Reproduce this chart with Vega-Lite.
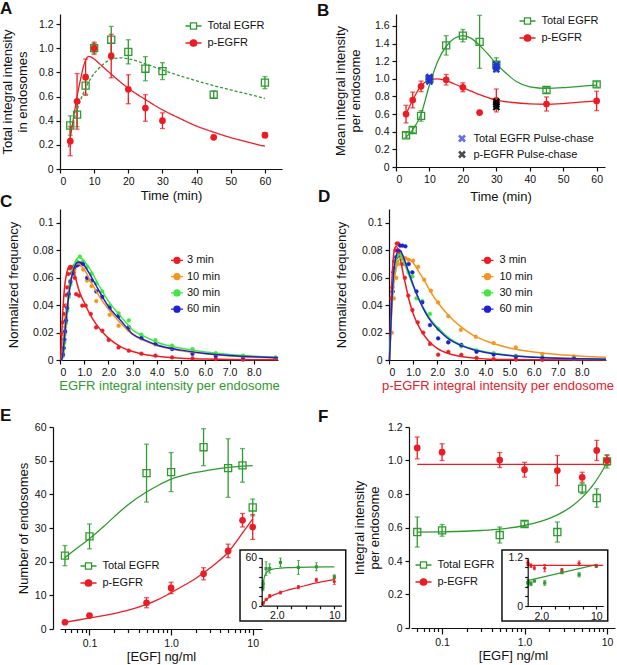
{
  "$schema": "https://vega.github.io/schema/vega-lite/v6.json",
  "padding": {"left": 0, "top": 0, "right": 2, "bottom": 2},
  "config": {
    "font": "Liberation Sans",
    "view": {"stroke": null},
    "axis": {"grid": false, "domainColor": "#111", "domainWidth": 1.2, "tickColor": "#111", "tickWidth": 1.2, "tickSize": 4,
      "labelFont": "Liberation Sans", "labelFontSize": 10.5, "labelColor": "#111", "labelPadding": 3,
      "titleFont": "Liberation Sans", "titleFontSize": 13, "titleFontWeight": "normal", "titleColor": "#111", "titleLineHeight": 14.5, "labelOverlap": false},
    "legend": {"labelFont": "Liberation Sans", "labelFontSize": 11, "labelColor": "#111"},
    "title": {"font": "Liberation Sans", "fontSize": 17, "fontWeight": "bold", "color": "#111", "anchor": "start", "frame": "group", "offset": 0, "baseline": "alphabetic"}
  },
  "datasets": {
    "aPts": [
      {"s":"Total EGFR","x":3,"y":0.36,"e":0.08},{"s":"Total EGFR","x":5,"y":0.45,"e":0.1},{"s":"Total EGFR","x":7.5,"y":0.69,"e":0.07},
      {"s":"Total EGFR","x":10,"y":1.0,"e":0.04},{"s":"Total EGFR","x":15,"y":1.07,"e":0.11},{"s":"Total EGFR","x":20,"y":0.97,"e":0.1},
      {"s":"Total EGFR","x":25,"y":0.83,"e":0.1},{"s":"Total EGFR","x":30,"y":0.81,"e":0.07},{"s":"Total EGFR","x":45,"y":0.615,"e":0.03},
      {"s":"Total EGFR","x":60,"y":0.715,"e":0.05},
      {"s":"p-EGFR","x":3,"y":0.23,"e":0.12},{"s":"p-EGFR","x":5,"y":0.56,"e":0.23},{"s":"p-EGFR","x":7.5,"y":0.76,"e":0.15},
      {"s":"p-EGFR","x":10,"y":1.0,"e":0.05},{"s":"p-EGFR","x":15,"y":0.935,"e":0.18},{"s":"p-EGFR","x":20,"y":0.66,"e":0.12},
      {"s":"p-EGFR","x":25,"y":0.505,"e":0.11},{"s":"p-EGFR","x":30,"y":0.4,"e":0.065},{"s":"p-EGFR","x":45,"y":0.262,"e":0.01},
      {"s":"p-EGFR","x":60,"y":0.28,"e":0.02}
    ],
    "aFit": [
      {"s":"Total EGFR","x":3,"y":0.3},{"s":"Total EGFR","x":4,"y":0.4},{"s":"Total EGFR","x":5,"y":0.49},{"s":"Total EGFR","x":6,"y":0.57},
      {"s":"Total EGFR","x":7.5,"y":0.67},{"s":"Total EGFR","x":9,"y":0.75},{"s":"Total EGFR","x":10,"y":0.79},{"s":"Total EGFR","x":12,"y":0.85},
      {"s":"Total EGFR","x":14,"y":0.895},{"s":"Total EGFR","x":16,"y":0.915},{"s":"Total EGFR","x":18,"y":0.92},{"s":"Total EGFR","x":20,"y":0.912},
      {"s":"Total EGFR","x":25,"y":0.87},{"s":"Total EGFR","x":30,"y":0.82},{"s":"Total EGFR","x":35,"y":0.772},{"s":"Total EGFR","x":40,"y":0.73},
      {"s":"Total EGFR","x":45,"y":0.69},{"s":"Total EGFR","x":50,"y":0.655},{"s":"Total EGFR","x":55,"y":0.62},{"s":"Total EGFR","x":60,"y":0.585},
      {"s":"p-EGFR","x":2.5,"y":0.18},{"s":"p-EGFR","x":3,"y":0.26},{"s":"p-EGFR","x":4,"y":0.43},{"s":"p-EGFR","x":5,"y":0.6},
      {"s":"p-EGFR","x":6,"y":0.74},{"s":"p-EGFR","x":7,"y":0.86},{"s":"p-EGFR","x":8,"y":0.925},{"s":"p-EGFR","x":8.5,"y":0.932},
      {"s":"p-EGFR","x":9,"y":0.928},{"s":"p-EGFR","x":10,"y":0.91},{"s":"p-EGFR","x":12,"y":0.86},{"s":"p-EGFR","x":15,"y":0.785},
      {"s":"p-EGFR","x":20,"y":0.668},{"s":"p-EGFR","x":25,"y":0.575},{"s":"p-EGFR","x":30,"y":0.49},{"s":"p-EGFR","x":35,"y":0.42},
      {"s":"p-EGFR","x":40,"y":0.355},{"s":"p-EGFR","x":45,"y":0.305},{"s":"p-EGFR","x":50,"y":0.26},{"s":"p-EGFR","x":55,"y":0.222},
      {"s":"p-EGFR","x":60,"y":0.188}
    ],
    "bPts": [
      {"s":"Total EGFR","x":3,"y":0.36,"e":0.03},{"s":"Total EGFR","x":5,"y":0.42,"e":0.03},{"s":"Total EGFR","x":7.5,"y":0.58,"e":0.06},
      {"s":"Total EGFR","x":10,"y":1.0,"e":0.03},{"s":"Total EGFR","x":15,"y":1.38,"e":0.11},{"s":"Total EGFR","x":20,"y":1.49,"e":0.07},
      {"s":"Total EGFR","x":25,"y":1.42,"e":0.3},{"s":"Total EGFR","x":30,"y":1.16,"e":0.08},{"s":"Total EGFR","x":45,"y":0.873,"e":0.03},
      {"s":"Total EGFR","x":60,"y":0.937,"e":0.03},
      {"s":"p-EGFR","x":3,"y":0.6,"e":0.1},{"s":"p-EGFR","x":5,"y":0.76,"e":0.09},{"s":"p-EGFR","x":7.5,"y":0.915,"e":0.06},
      {"s":"p-EGFR","x":10,"y":1.0,"e":0.02},{"s":"p-EGFR","x":15,"y":0.99,"e":0.06},{"s":"p-EGFR","x":20,"y":0.905,"e":0.05},
      {"s":"p-EGFR","x":25,"y":0.617,"e":0.005},{"s":"p-EGFR","x":30,"y":0.755,"e":0.13},{"s":"p-EGFR","x":45,"y":0.715,"e":0.08},
      {"s":"p-EGFR","x":60,"y":0.75,"e":0.11}
    ],
    "bFit": [
      {"s":"Total EGFR","x":3,"y":0.34},{"s":"Total EGFR","x":5,"y":0.42},{"s":"Total EGFR","x":7.5,"y":0.6},{"s":"Total EGFR","x":10,"y":0.93},
      {"s":"Total EGFR","x":12.5,"y":1.2},{"s":"Total EGFR","x":15,"y":1.37},{"s":"Total EGFR","x":17.5,"y":1.46},{"s":"Total EGFR","x":20,"y":1.49},
      {"s":"Total EGFR","x":22.5,"y":1.46},{"s":"Total EGFR","x":25,"y":1.38},{"s":"Total EGFR","x":27.5,"y":1.28},{"s":"Total EGFR","x":30,"y":1.17},
      {"s":"Total EGFR","x":33,"y":1.06},{"s":"Total EGFR","x":36,"y":0.97},{"s":"Total EGFR","x":40,"y":0.91},{"s":"Total EGFR","x":45,"y":0.893},
      {"s":"Total EGFR","x":50,"y":0.9},{"s":"Total EGFR","x":55,"y":0.915},{"s":"Total EGFR","x":60,"y":0.93},
      {"s":"p-EGFR","x":3,"y":0.6},{"s":"p-EGFR","x":5,"y":0.76},{"s":"p-EGFR","x":7.5,"y":0.92},{"s":"p-EGFR","x":10,"y":0.985},
      {"s":"p-EGFR","x":12.5,"y":1.0},{"s":"p-EGFR","x":15,"y":0.98},{"s":"p-EGFR","x":17.5,"y":0.942},{"s":"p-EGFR","x":20,"y":0.9},
      {"s":"p-EGFR","x":22.5,"y":0.86},{"s":"p-EGFR","x":25,"y":0.82},{"s":"p-EGFR","x":27.5,"y":0.787},{"s":"p-EGFR","x":30,"y":0.76},
      {"s":"p-EGFR","x":35,"y":0.732},{"s":"p-EGFR","x":40,"y":0.717},{"s":"p-EGFR","x":45,"y":0.712},{"s":"p-EGFR","x":50,"y":0.72},
      {"s":"p-EGFR","x":55,"y":0.735},{"s":"p-EGFR","x":60,"y":0.75}
    ],
    "bPulse": [
      {"s":"Total EGFR Pulse-chase","x":10,"y":0.97},{"s":"Total EGFR Pulse-chase","x":10,"y":0.995},{"s":"Total EGFR Pulse-chase","x":10,"y":1.02},
      {"s":"Total EGFR Pulse-chase","x":30,"y":1.11},{"s":"Total EGFR Pulse-chase","x":30,"y":1.135},{"s":"Total EGFR Pulse-chase","x":30,"y":1.16},
      {"s":"p-EGFR Pulse-chase","x":30,"y":0.68},{"s":"p-EGFR Pulse-chase","x":30,"y":0.71},{"s":"p-EGFR Pulse-chase","x":30,"y":0.74}
    ],
    "cPts": [
      {"s":"3 min","x":0.07,"y":0.019},{"s":"3 min","x":0.12,"y":0.0275},{"s":"3 min","x":0.165,"y":0.0336},{"s":"3 min","x":0.21,"y":0.0397},
      {"s":"3 min","x":0.26,"y":0.0474},{"s":"3 min","x":0.3,"y":0.053},{"s":"3 min","x":0.34,"y":0.0628},{"s":"3 min","x":0.4,"y":0.0669},
      {"s":"3 min","x":0.47,"y":0.0676},{"s":"3 min","x":0.56,"y":0.064},{"s":"3 min","x":0.61,"y":0.06},{"s":"3 min","x":0.67,"y":0.048},
      {"s":"3 min","x":0.79,"y":0.047},{"s":"3 min","x":0.92,"y":0.0397},{"s":"3 min","x":1.06,"y":0.0397},{"s":"3 min","x":1.27,"y":0.0336},
      {"s":"3 min","x":1.49,"y":0.0238},{"s":"3 min","x":1.75,"y":0.0214},{"s":"3 min","x":2.01,"y":0.0146},{"s":"3 min","x":2.42,"y":0.0092},
      {"s":"3 min","x":2.84,"y":0.0068},{"s":"3 min","x":3.36,"y":0.0046},{"s":"3 min","x":3.94,"y":0.0032},{"s":"3 min","x":4.63,"y":0.0019},
      {"s":"3 min","x":5.47,"y":0.0012},{"s":"3 min","x":6.43,"y":0.0007},{"s":"3 min","x":7.56,"y":0.0002},
      {"s":"10 min","x":0.12,"y":0.006},{"s":"10 min","x":0.15,"y":0.012},{"s":"10 min","x":0.18,"y":0.018},{"s":"10 min","x":0.21,"y":0.024},
      {"s":"10 min","x":0.25,"y":0.031},{"s":"10 min","x":0.3,"y":0.04},{"s":"10 min","x":0.36,"y":0.049},{"s":"10 min","x":0.43,"y":0.058},
      {"s":"10 min","x":0.51,"y":0.064},{"s":"10 min","x":0.6,"y":0.066},{"s":"10 min","x":0.7,"y":0.07},{"s":"10 min","x":0.82,"y":0.07},
      {"s":"10 min","x":0.96,"y":0.066},{"s":"10 min","x":1.12,"y":0.058},{"s":"10 min","x":1.3,"y":0.054},{"s":"10 min","x":1.5,"y":0.043},
      {"s":"10 min","x":1.74,"y":0.046},{"s":"10 min","x":2.05,"y":0.033},{"s":"10 min","x":2.42,"y":0.025},{"s":"10 min","x":2.84,"y":0.022},
      {"s":"10 min","x":3.36,"y":0.016},{"s":"10 min","x":3.94,"y":0.012},{"s":"10 min","x":4.63,"y":0.0085},{"s":"10 min","x":5.47,"y":0.006},
      {"s":"10 min","x":6.43,"y":0.0037},{"s":"10 min","x":7.56,"y":0.0025},{"s":"10 min","x":8.9,"y":0.0015},
      {"s":"30 min","x":0.12,"y":0.003},{"s":"30 min","x":0.15,"y":0.008},{"s":"30 min","x":0.18,"y":0.013},{"s":"30 min","x":0.21,"y":0.02},
      {"s":"30 min","x":0.25,"y":0.027},{"s":"30 min","x":0.3,"y":0.036},{"s":"30 min","x":0.36,"y":0.046},{"s":"30 min","x":0.43,"y":0.055},
      {"s":"30 min","x":0.51,"y":0.064},{"s":"30 min","x":0.6,"y":0.069},{"s":"30 min","x":0.7,"y":0.072},{"s":"30 min","x":0.82,"y":0.0755},
      {"s":"30 min","x":0.96,"y":0.072},{"s":"30 min","x":1.12,"y":0.068},{"s":"30 min","x":1.3,"y":0.063},{"s":"30 min","x":1.5,"y":0.056},
      {"s":"30 min","x":1.74,"y":0.05},{"s":"30 min","x":2.05,"y":0.0397},{"s":"30 min","x":2.42,"y":0.034},{"s":"30 min","x":2.84,"y":0.029},
      {"s":"30 min","x":3.36,"y":0.0185},{"s":"30 min","x":3.94,"y":0.0145},{"s":"30 min","x":4.63,"y":0.0105},{"s":"30 min","x":5.47,"y":0.008},
      {"s":"30 min","x":6.43,"y":0.005},{"s":"30 min","x":7.56,"y":0.0032},{"s":"30 min","x":8.9,"y":0.002},
      {"s":"60 min","x":0.12,"y":0.004},{"s":"60 min","x":0.15,"y":0.009},{"s":"60 min","x":0.18,"y":0.015},{"s":"60 min","x":0.21,"y":0.021},
      {"s":"60 min","x":0.25,"y":0.029},{"s":"60 min","x":0.3,"y":0.038},{"s":"60 min","x":0.36,"y":0.048},{"s":"60 min","x":0.43,"y":0.057},
      {"s":"60 min","x":0.51,"y":0.063},{"s":"60 min","x":0.6,"y":0.068},{"s":"60 min","x":0.7,"y":0.069},{"s":"60 min","x":0.82,"y":0.07},
      {"s":"60 min","x":0.96,"y":0.07},{"s":"60 min","x":1.12,"y":0.06},{"s":"60 min","x":1.3,"y":0.058},{"s":"60 min","x":1.5,"y":0.05},
      {"s":"60 min","x":1.74,"y":0.046},{"s":"60 min","x":2.05,"y":0.038},{"s":"60 min","x":2.42,"y":0.032},{"s":"60 min","x":2.84,"y":0.024},
      {"s":"60 min","x":3.36,"y":0.016},{"s":"60 min","x":3.94,"y":0.0115},{"s":"60 min","x":4.63,"y":0.008},{"s":"60 min","x":5.47,"y":0.0045},
      {"s":"60 min","x":6.43,"y":0.003},{"s":"60 min","x":7.56,"y":0.002},{"s":"60 min","x":8.9,"y":0.0012}
    ],
    "cFit": [
      {"s":"3 min","x":0.03,"y":0},{"s":"3 min","x":0.06,"y":0.014},{"s":"3 min","x":0.1,"y":0.03},{"s":"3 min","x":0.15,"y":0.045},
      {"s":"3 min","x":0.2,"y":0.055},{"s":"3 min","x":0.25,"y":0.061},{"s":"3 min","x":0.3,"y":0.065},{"s":"3 min","x":0.4,"y":0.069},
      {"s":"3 min","x":0.5,"y":0.0685},{"s":"3 min","x":0.6,"y":0.063},{"s":"3 min","x":0.7,"y":0.056},{"s":"3 min","x":0.8,"y":0.05},
      {"s":"3 min","x":1.0,"y":0.042},{"s":"3 min","x":1.25,"y":0.033},{"s":"3 min","x":1.5,"y":0.026},{"s":"3 min","x":1.75,"y":0.0205},
      {"s":"3 min","x":2.0,"y":0.016},{"s":"3 min","x":2.5,"y":0.0098},{"s":"3 min","x":3.0,"y":0.0062},{"s":"3 min","x":3.5,"y":0.004},
      {"s":"3 min","x":4,"y":0.0027},{"s":"3 min","x":5,"y":0.0013},{"s":"3 min","x":6,"y":0.0007},{"s":"3 min","x":7,"y":0.0004},
      {"s":"3 min","x":8,"y":0.0002},{"s":"3 min","x":9,"y":0.0001},
      {"s":"10 min","x":0.05,"y":0},{"s":"10 min","x":0.1,"y":0.003},{"s":"10 min","x":0.15,"y":0.012},{"s":"10 min","x":0.2,"y":0.022},
      {"s":"10 min","x":0.3,"y":0.04},{"s":"10 min","x":0.4,"y":0.054},{"s":"10 min","x":0.5,"y":0.063},{"s":"10 min","x":0.6,"y":0.068},
      {"s":"10 min","x":0.7,"y":0.07},{"s":"10 min","x":0.8,"y":0.07},{"s":"10 min","x":0.9,"y":0.068},{"s":"10 min","x":1.0,"y":0.066},
      {"s":"10 min","x":1.25,"y":0.058},{"s":"10 min","x":1.5,"y":0.05},{"s":"10 min","x":1.75,"y":0.043},{"s":"10 min","x":2.0,"y":0.037},
      {"s":"10 min","x":2.5,"y":0.027},{"s":"10 min","x":3.0,"y":0.0185},{"s":"10 min","x":3.5,"y":0.014},{"s":"10 min","x":4,"y":0.0105},
      {"s":"10 min","x":5,"y":0.0068},{"s":"10 min","x":6,"y":0.0045},{"s":"10 min","x":7,"y":0.003},{"s":"10 min","x":8,"y":0.0021},
      {"s":"10 min","x":9,"y":0.0015},
      {"s":"30 min","x":0.05,"y":0},{"s":"30 min","x":0.1,"y":0.001},{"s":"30 min","x":0.15,"y":0.008},{"s":"30 min","x":0.2,"y":0.018},
      {"s":"30 min","x":0.3,"y":0.036},{"s":"30 min","x":0.4,"y":0.052},{"s":"30 min","x":0.5,"y":0.063},{"s":"30 min","x":0.6,"y":0.07},
      {"s":"30 min","x":0.7,"y":0.074},{"s":"30 min","x":0.8,"y":0.075},{"s":"30 min","x":0.9,"y":0.074},{"s":"30 min","x":1.0,"y":0.072},
      {"s":"30 min","x":1.25,"y":0.066},{"s":"30 min","x":1.5,"y":0.058},{"s":"30 min","x":1.75,"y":0.05},{"s":"30 min","x":2.0,"y":0.043},
      {"s":"30 min","x":2.5,"y":0.032},{"s":"30 min","x":3.0,"y":0.022},{"s":"30 min","x":3.5,"y":0.017},{"s":"30 min","x":4,"y":0.013},
      {"s":"30 min","x":5,"y":0.0085},{"s":"30 min","x":6,"y":0.0058},{"s":"30 min","x":7,"y":0.004},{"s":"30 min","x":8,"y":0.0028},
      {"s":"30 min","x":9,"y":0.002},
      {"s":"60 min","x":0.05,"y":0},{"s":"60 min","x":0.1,"y":0.002},{"s":"60 min","x":0.15,"y":0.01},{"s":"60 min","x":0.2,"y":0.02},
      {"s":"60 min","x":0.3,"y":0.038},{"s":"60 min","x":0.4,"y":0.052},{"s":"60 min","x":0.5,"y":0.062},{"s":"60 min","x":0.6,"y":0.068},
      {"s":"60 min","x":0.7,"y":0.071},{"s":"60 min","x":0.8,"y":0.0715},{"s":"60 min","x":0.9,"y":0.071},{"s":"60 min","x":1.0,"y":0.069},
      {"s":"60 min","x":1.25,"y":0.062},{"s":"60 min","x":1.5,"y":0.054},{"s":"60 min","x":1.75,"y":0.046},{"s":"60 min","x":2.0,"y":0.039},
      {"s":"60 min","x":2.5,"y":0.029},{"s":"60 min","x":3.0,"y":0.019},{"s":"60 min","x":3.5,"y":0.0145},{"s":"60 min","x":4,"y":0.011},
      {"s":"60 min","x":5,"y":0.0072},{"s":"60 min","x":6,"y":0.0048},{"s":"60 min","x":7,"y":0.0033},{"s":"60 min","x":8,"y":0.0023},
      {"s":"60 min","x":9,"y":0.0016}
    ],
    "dPts": [
      {"s":"3 min","x":0.1,"y":0.045},{"s":"3 min","x":0.14,"y":0.053},{"s":"3 min","x":0.18,"y":0.064},{"s":"3 min","x":0.22,"y":0.072},
      {"s":"3 min","x":0.27,"y":0.08},{"s":"3 min","x":0.32,"y":0.085},{"s":"3 min","x":0.38,"y":0.085},{"s":"3 min","x":0.45,"y":0.079},
      {"s":"3 min","x":0.55,"y":0.07},{"s":"3 min","x":0.66,"y":0.06},{"s":"3 min","x":0.8,"y":0.047},{"s":"3 min","x":0.97,"y":0.0365},
      {"s":"3 min","x":1.19,"y":0.0275},{"s":"3 min","x":1.42,"y":0.02},{"s":"3 min","x":1.7,"y":0.0117},{"s":"3 min","x":2.04,"y":0.0039},
      {"s":"3 min","x":2.46,"y":0.006},{"s":"3 min","x":3.0,"y":0.0038},{"s":"3 min","x":3.63,"y":0.0015},{"s":"3 min","x":4.34,"y":0.0007},
      {"s":"3 min","x":5.26,"y":0.0003},{"s":"3 min","x":6.36,"y":0.0001},
      {"s":"10 min","x":0.12,"y":0.02},{"s":"10 min","x":0.2,"y":0.045},{"s":"10 min","x":0.3,"y":0.06},{"s":"10 min","x":0.38,"y":0.07},
      {"s":"10 min","x":0.46,"y":0.076},{"s":"10 min","x":0.56,"y":0.075},{"s":"10 min","x":0.68,"y":0.074},{"s":"10 min","x":0.82,"y":0.073},
      {"s":"10 min","x":1.0,"y":0.0725},{"s":"10 min","x":1.21,"y":0.068},{"s":"10 min","x":1.46,"y":0.0586},{"s":"10 min","x":1.74,"y":0.0506},
      {"s":"10 min","x":2.04,"y":0.042},{"s":"10 min","x":2.46,"y":0.032},{"s":"10 min","x":2.98,"y":0.022},{"s":"10 min","x":3.6,"y":0.017},
      {"s":"10 min","x":4.34,"y":0.0124},{"s":"10 min","x":5.26,"y":0.0092},{"s":"10 min","x":6.36,"y":0.0044},{"s":"10 min","x":7.67,"y":0.0027},
      {"s":"30 min","x":0.15,"y":0.05},{"s":"30 min","x":0.22,"y":0.065},{"s":"30 min","x":0.3,"y":0.072},{"s":"30 min","x":0.38,"y":0.076},
      {"s":"30 min","x":0.46,"y":0.077},{"s":"30 min","x":0.56,"y":0.074},{"s":"30 min","x":0.68,"y":0.07},{"s":"30 min","x":0.82,"y":0.064},
      {"s":"30 min","x":0.97,"y":0.061},{"s":"30 min","x":1.14,"y":0.045},{"s":"30 min","x":1.38,"y":0.043},{"s":"30 min","x":1.7,"y":0.0336},
      {"s":"30 min","x":2.04,"y":0.0226},{"s":"30 min","x":2.46,"y":0.013},{"s":"30 min","x":3.0,"y":0.01},{"s":"30 min","x":3.63,"y":0.007},
      {"s":"30 min","x":4.34,"y":0.005},{"s":"30 min","x":5.26,"y":0.003},{"s":"30 min","x":6.36,"y":0.002},{"s":"30 min","x":7.67,"y":0.001},
      {"s":"60 min","x":0.15,"y":0.05},{"s":"60 min","x":0.22,"y":0.067},{"s":"60 min","x":0.3,"y":0.075},{"s":"60 min","x":0.38,"y":0.08},
      {"s":"60 min","x":0.46,"y":0.0835},{"s":"60 min","x":0.56,"y":0.0835},{"s":"60 min","x":0.68,"y":0.083},{"s":"60 min","x":0.82,"y":0.07},
      {"s":"60 min","x":0.97,"y":0.064},{"s":"60 min","x":1.14,"y":0.05},{"s":"60 min","x":1.38,"y":0.042},{"s":"60 min","x":1.7,"y":0.0255},
      {"s":"60 min","x":2.04,"y":0.0158},{"s":"60 min","x":2.46,"y":0.0129},{"s":"60 min","x":3.0,"y":0.011},{"s":"60 min","x":3.63,"y":0.006},
      {"s":"60 min","x":4.34,"y":0.004},{"s":"60 min","x":5.26,"y":0.0025},{"s":"60 min","x":6.36,"y":0.0015},{"s":"60 min","x":7.67,"y":0.0012}
    ],
    "dFit": [
      {"s":"3 min","x":0.02,"y":0},{"s":"3 min","x":0.05,"y":0.02},{"s":"3 min","x":0.1,"y":0.05},{"s":"3 min","x":0.15,"y":0.068},
      {"s":"3 min","x":0.2,"y":0.078},{"s":"3 min","x":0.25,"y":0.082},{"s":"3 min","x":0.3,"y":0.083},{"s":"3 min","x":0.4,"y":0.079},
      {"s":"3 min","x":0.5,"y":0.071},{"s":"3 min","x":0.6,"y":0.062},{"s":"3 min","x":0.7,"y":0.054},{"s":"3 min","x":0.8,"y":0.046},
      {"s":"3 min","x":1.0,"y":0.034},{"s":"3 min","x":1.25,"y":0.024},{"s":"3 min","x":1.5,"y":0.017},{"s":"3 min","x":1.75,"y":0.012},
      {"s":"3 min","x":2.0,"y":0.0085},{"s":"3 min","x":2.5,"y":0.0045},{"s":"3 min","x":3.0,"y":0.0025},{"s":"3 min","x":3.5,"y":0.0014},
      {"s":"3 min","x":4,"y":0.0008},{"s":"3 min","x":5,"y":0.0003},{"s":"3 min","x":6,"y":0.0001},{"s":"3 min","x":9,"y":0},
      {"s":"10 min","x":0.02,"y":0},{"s":"10 min","x":0.05,"y":0.01},{"s":"10 min","x":0.1,"y":0.03},{"s":"10 min","x":0.2,"y":0.055},
      {"s":"10 min","x":0.3,"y":0.067},{"s":"10 min","x":0.4,"y":0.073},{"s":"10 min","x":0.5,"y":0.075},{"s":"10 min","x":0.6,"y":0.0755},
      {"s":"10 min","x":0.8,"y":0.074},{"s":"10 min","x":1.0,"y":0.071},{"s":"10 min","x":1.25,"y":0.064},{"s":"10 min","x":1.5,"y":0.057},
      {"s":"10 min","x":1.75,"y":0.049},{"s":"10 min","x":2.0,"y":0.0425},{"s":"10 min","x":2.5,"y":0.032},{"s":"10 min","x":3.0,"y":0.024},
      {"s":"10 min","x":3.5,"y":0.018},{"s":"10 min","x":4,"y":0.014},{"s":"10 min","x":5,"y":0.0088},{"s":"10 min","x":6,"y":0.0058},
      {"s":"10 min","x":7,"y":0.004},{"s":"10 min","x":8,"y":0.0028},{"s":"10 min","x":9,"y":0.002},
      {"s":"30 min","x":0.02,"y":0},{"s":"30 min","x":0.05,"y":0.012},{"s":"30 min","x":0.1,"y":0.035},{"s":"30 min","x":0.2,"y":0.062},
      {"s":"30 min","x":0.3,"y":0.073},{"s":"30 min","x":0.4,"y":0.077},{"s":"30 min","x":0.5,"y":0.076},{"s":"30 min","x":0.6,"y":0.072},
      {"s":"30 min","x":0.8,"y":0.063},{"s":"30 min","x":1.0,"y":0.054},{"s":"30 min","x":1.25,"y":0.044},{"s":"30 min","x":1.5,"y":0.036},
      {"s":"30 min","x":1.75,"y":0.029},{"s":"30 min","x":2.0,"y":0.024},{"s":"30 min","x":2.5,"y":0.016},{"s":"30 min","x":3.0,"y":0.011},
      {"s":"30 min","x":3.5,"y":0.008},{"s":"30 min","x":4,"y":0.006},{"s":"30 min","x":5,"y":0.0035},{"s":"30 min","x":6,"y":0.0022},
      {"s":"30 min","x":7,"y":0.0015},{"s":"30 min","x":8,"y":0.001},{"s":"30 min","x":9,"y":0.0007},
      {"s":"60 min","x":0.02,"y":0},{"s":"60 min","x":0.05,"y":0.012},{"s":"60 min","x":0.1,"y":0.036},{"s":"60 min","x":0.2,"y":0.065},
      {"s":"60 min","x":0.3,"y":0.076},{"s":"60 min","x":0.4,"y":0.08},{"s":"60 min","x":0.5,"y":0.079},{"s":"60 min","x":0.6,"y":0.075},
      {"s":"60 min","x":0.8,"y":0.065},{"s":"60 min","x":1.0,"y":0.055},{"s":"60 min","x":1.25,"y":0.044},{"s":"60 min","x":1.5,"y":0.035},
      {"s":"60 min","x":1.75,"y":0.028},{"s":"60 min","x":2.0,"y":0.023},{"s":"60 min","x":2.5,"y":0.015},{"s":"60 min","x":3.0,"y":0.0105},
      {"s":"60 min","x":3.5,"y":0.0075},{"s":"60 min","x":4,"y":0.0055},{"s":"60 min","x":5,"y":0.0032},{"s":"60 min","x":6,"y":0.002},
      {"s":"60 min","x":7,"y":0.0013},{"s":"60 min","x":8,"y":0.0009},{"s":"60 min","x":9,"y":0.0006}
    ],
    "ePts": [
      {"s":"Total EGFR","x":0.05,"y":21.8,"e":3},{"s":"Total EGFR","x":0.1,"y":27.5,"e":3.7},{"s":"Total EGFR","x":0.5,"y":46.3,"e":8.6},
      {"s":"Total EGFR","x":1,"y":46.6,"e":5.8},{"s":"Total EGFR","x":2.5,"y":54,"e":5.5},{"s":"Total EGFR","x":5,"y":47.8,"e":8.7},
      {"s":"Total EGFR","x":7.5,"y":48.6,"e":5},{"s":"Total EGFR","x":10,"y":36.1,"e":2.5},
      {"s":"p-EGFR","x":0.05,"y":2.0,"e":0.3},{"s":"p-EGFR","x":0.1,"y":4.0,"e":0.5},{"s":"p-EGFR","x":0.5,"y":7.8,"e":1.5},
      {"s":"p-EGFR","x":1,"y":12.2,"e":1.7},{"s":"p-EGFR","x":2.5,"y":16.4,"e":1.8},{"s":"p-EGFR","x":5,"y":23.2,"e":2},
      {"s":"p-EGFR","x":7.5,"y":32.3,"e":2},{"s":"p-EGFR","x":10,"y":30.3,"e":3.7}
    ],
    "eFit": [
      {"s":"Total EGFR","x":0.05,"y":21.2},{"s":"Total EGFR","x":0.07,"y":24},{"s":"Total EGFR","x":0.1,"y":26.8},{"s":"Total EGFR","x":0.15,"y":30.5},
      {"s":"Total EGFR","x":0.2,"y":33.3},{"s":"Total EGFR","x":0.3,"y":37},{"s":"Total EGFR","x":0.5,"y":40.7},{"s":"Total EGFR","x":0.7,"y":42.7},
      {"s":"Total EGFR","x":1,"y":44.5},{"s":"Total EGFR","x":1.5,"y":45.8},{"s":"Total EGFR","x":2,"y":46.5},{"s":"Total EGFR","x":2.5,"y":46.9},
      {"s":"Total EGFR","x":3.5,"y":47.5},{"s":"Total EGFR","x":5,"y":48},{"s":"Total EGFR","x":7,"y":48.3},{"s":"Total EGFR","x":10,"y":48.5},
      {"s":"p-EGFR","x":0.05,"y":2.0},{"s":"p-EGFR","x":0.07,"y":2.6},{"s":"p-EGFR","x":0.1,"y":3.3},{"s":"p-EGFR","x":0.2,"y":4.6},
      {"s":"p-EGFR","x":0.3,"y":5.6},{"s":"p-EGFR","x":0.5,"y":7.3},{"s":"p-EGFR","x":0.7,"y":8.8},{"s":"p-EGFR","x":1,"y":10.8},
      {"s":"p-EGFR","x":1.5,"y":13.2},{"s":"p-EGFR","x":2,"y":15},{"s":"p-EGFR","x":2.5,"y":16.7},{"s":"p-EGFR","x":3.5,"y":19.4},
      {"s":"p-EGFR","x":5,"y":22.8},{"s":"p-EGFR","x":7,"y":27.5},{"s":"p-EGFR","x":8.5,"y":30.3},{"s":"p-EGFR","x":10,"y":32.7}
    ],
    "fPts": [
      {"s":"Total EGFR","x":0.05,"y":0.573,"e":0.09},{"s":"Total EGFR","x":0.1,"y":0.583,"e":0.035},{"s":"Total EGFR","x":0.5,"y":0.555,"e":0.048},
      {"s":"Total EGFR","x":1,"y":0.621,"e":0.015},{"s":"Total EGFR","x":2.5,"y":0.573,"e":0.06},{"s":"Total EGFR","x":5,"y":0.832,"e":0.03},
      {"s":"Total EGFR","x":7.5,"y":0.776,"e":0.055},{"s":"Total EGFR","x":10,"y":0.995,"e":0.04},
      {"s":"p-EGFR","x":0.05,"y":1.075,"e":0.065},{"s":"p-EGFR","x":0.1,"y":1.05,"e":0.05},{"s":"p-EGFR","x":0.5,"y":1.003,"e":0.045},
      {"s":"p-EGFR","x":1,"y":0.945,"e":0.044},{"s":"p-EGFR","x":2.5,"y":0.94,"e":0.09},{"s":"p-EGFR","x":5,"y":0.9,"e":0.03},
      {"s":"p-EGFR","x":7.5,"y":1.06,"e":0.06},{"s":"p-EGFR","x":10,"y":1.0,"e":0.03}
    ],
    "fFit": [
      {"s":"Total EGFR","x":0.05,"y":0.572},{"s":"Total EGFR","x":0.1,"y":0.574},{"s":"Total EGFR","x":0.3,"y":0.582},{"s":"Total EGFR","x":0.5,"y":0.59},
      {"s":"Total EGFR","x":1,"y":0.612},{"s":"Total EGFR","x":1.5,"y":0.633},{"s":"Total EGFR","x":2,"y":0.654},{"s":"Total EGFR","x":2.5,"y":0.675},
      {"s":"Total EGFR","x":3,"y":0.696},{"s":"Total EGFR","x":4,"y":0.738},{"s":"Total EGFR","x":5,"y":0.78},{"s":"Total EGFR","x":6,"y":0.822},
      {"s":"Total EGFR","x":7,"y":0.864},{"s":"Total EGFR","x":8,"y":0.906},{"s":"Total EGFR","x":9,"y":0.948},{"s":"Total EGFR","x":10,"y":0.99},
      {"s":"p-EGFR","x":0.05,"y":0.977},{"s":"p-EGFR","x":11,"y":0.977}
    ],
    "fInsetFit": [
      {"s":"Total EGFR","x":0,"y":0.63},{"s":"Total EGFR","x":10,"y":1.03},
      {"s":"p-EGFR","x":0,"y":1.01},{"s":"p-EGFR","x":11,"y":1.01}
    ]
  },
  "vconcat": [
    {
      "hconcat": [
        {
          "width": 222, "height": 155,
          "title": {"text": "A", "dx": -60, "dy": 8},
          "encoding": {
            "x": {"field": "x", "type": "quantitative", "scale": {"domain": [0, 65], "nice": false}, "axis": {"values": [0, 10, 20, 30, 40, 50, 60], "title": "Time (min)", "titlePadding": 3}},
            "y": {"field": "y", "type": "quantitative", "scale": {"domain": [0, 1.283], "nice": false}, "axis": {"values": [0, 0.2, 0.4, 0.6, 0.8, 1, 1.2], "labelExpr": "datum.value == 0 ? '0' : format(datum.value, '.1f')", "title": ["Total integral intensity", "in endosomes"], "titlePadding": 9}}
          },
          "layer": [
            {"data": {"name": "aPts"}, "mark": {"type": "errorbar", "ticks": true, "size": 5, "thickness": 1.3},
             "encoding": {"yError": {"field": "e"}, "color": {"field": "s", "type": "nominal", "scale": {"domain": ["p-EGFR", "Total EGFR"], "range": ["#ec1c24", "#2f9a2f"]}, "legend": null}}},
            {"data": {"name": "aFit"}, "mark": {"type": "line", "strokeWidth": 1.3, "interpolate": "monotone"},
             "encoding": {"color": {"field": "s", "type": "nominal", "scale": {"domain": ["p-EGFR", "Total EGFR"], "range": ["#ec1c24", "#2f9a2f"]}, "legend": null},
                          "strokeDash": {"field": "s", "type": "nominal", "scale": {"domain": ["p-EGFR", "Total EGFR"], "range": [[1, 0], [3, 2]]}, "legend": null}}},
            {"data": {"name": "aPts"}, "transform": [{"filter": "datum.s == 'Total EGFR'"}],
             "mark": {"type": "point", "shape": "square", "filled": false, "size": 50, "strokeWidth": 1.3, "opacity": 1},
             "encoding": {"color": {"field": "s", "type": "nominal", "scale": {"domain": ["p-EGFR", "Total EGFR"], "range": ["#ec1c24", "#2f9a2f"]}, "legend": null}}},
            {"data": {"name": "aPts"}, "transform": [{"filter": "datum.s == 'p-EGFR'"}],
             "mark": {"type": "point", "shape": "circle", "filled": true, "size": 45, "opacity": 1},
             "encoding": {"color": {"field": "s", "type": "nominal", "scale": {"domain": ["p-EGFR", "Total EGFR"], "range": ["#ec1c24", "#2f9a2f"]}, "legend": null}}},
            {"data": {"name": "aPts"}, "mark": {"type": "point", "opacity": 0},
             "encoding": {
               "shape": {"field": "s", "type": "nominal", "scale": {"domain": ["Total EGFR", "p-EGFR"], "range": ["M-1,0H-0.38M0.38,0H1M-0.38,-0.38H0.38V0.38H-0.38Z", "M-1,0H1M-0.4,0A0.4,0.4 0 1,0 0.4,0A0.4,0.4 0 1,0 -0.4,0Z"]},
                 "legend": {"title": null, "orient": "none", "legendX": 124.5, "legendY": 3, "symbolSize": 256, "symbolStrokeWidth": 1.3, "symbolOpacity": 1, "rowPadding": 2, "labelOffset": 5}},
               "fill": {"field": "s", "type": "nominal", "scale": {"domain": ["Total EGFR", "p-EGFR"], "range": ["transparent", "#ec1c24"]},
                 "legend": {"title": null, "orient": "none", "legendX": 124.5, "legendY": 3, "symbolSize": 256, "symbolStrokeWidth": 1.3, "symbolOpacity": 1, "rowPadding": 2, "labelOffset": 5}},
               "stroke": {"field": "s", "type": "nominal", "scale": {"domain": ["Total EGFR", "p-EGFR"], "range": ["#2f9a2f", "#ec1c24"]},
                 "legend": {"title": null, "orient": "none", "legendX": 124.5, "legendY": 3, "symbolSize": 256, "symbolStrokeWidth": 1.3, "symbolOpacity": 1, "rowPadding": 2, "labelOffset": 5}}
             }}
          ]
        },
        {
          "width": 209, "height": 153,
          "title": {"text": "B", "dx": -79, "dy": 12},
          "encoding": {
            "x": {"field": "x", "type": "quantitative", "scale": {"domain": [0, 62.5], "nice": false}, "axis": {"values": [0, 10, 20, 30, 40, 50, 60], "title": "Time (min)", "titlePadding": 5.5}},
            "y": {"field": "y", "type": "quantitative", "scale": {"domain": [0, 1.736], "nice": false}, "axis": {"values": [0, 0.2, 0.4, 0.6, 0.8, 1, 1.2, 1.4, 1.6], "labelExpr": "datum.value == 0 ? '0' : format(datum.value, '.1f')", "title": ["Mean integral intensity", "per endosome"], "titlePadding": 12}}
          },
          "layer": [
            {"data": {"name": "bPts"}, "mark": {"type": "errorbar", "ticks": true, "size": 5, "thickness": 1.3},
             "encoding": {"yError": {"field": "e"}, "color": {"field": "s", "type": "nominal", "scale": {"domain": ["Total EGFR", "p-EGFR", "Total EGFR Pulse-chase", "p-EGFR Pulse-chase"], "range": ["#2f9a2f", "#ec1c24", "#2233dd", "#000000"]}}}},
            {"data": {"name": "bFit"}, "mark": {"type": "line", "strokeWidth": 1.3, "interpolate": "monotone"},
             "encoding": {"color": {"field": "s", "type": "nominal", "scale": {"domain": ["Total EGFR", "p-EGFR", "Total EGFR Pulse-chase", "p-EGFR Pulse-chase"], "range": ["#2f9a2f", "#ec1c24", "#2233dd", "#000000"]}}}},
            {"data": {"name": "bPts"}, "transform": [{"filter": "datum.s == 'Total EGFR'"}],
             "mark": {"type": "point", "shape": "square", "filled": false, "size": 50, "strokeWidth": 1.3, "opacity": 1},
             "encoding": {"color": {"field": "s", "type": "nominal", "scale": {"domain": ["Total EGFR", "p-EGFR", "Total EGFR Pulse-chase", "p-EGFR Pulse-chase"], "range": ["#2f9a2f", "#ec1c24", "#2233dd", "#000000"]}}}},
            {"data": {"name": "bPts"}, "transform": [{"filter": "datum.s == 'p-EGFR'"}],
             "mark": {"type": "point", "shape": "circle", "filled": true, "size": 45, "opacity": 1},
             "encoding": {"color": {"field": "s", "type": "nominal", "scale": {"domain": ["Total EGFR", "p-EGFR", "Total EGFR Pulse-chase", "p-EGFR Pulse-chase"], "range": ["#2f9a2f", "#ec1c24", "#2233dd", "#000000"]}}}},
            {"data": {"name": "bPulse"},
             "mark": {"type": "point", "shape": "M-1,-1L1,1M-1,1L1,-1", "filled": false, "size": 36, "strokeWidth": 2.2, "opacity": 1},
             "encoding": {"color": {"field": "s", "type": "nominal", "scale": {"domain": ["Total EGFR", "p-EGFR", "Total EGFR Pulse-chase", "p-EGFR Pulse-chase"], "range": ["#2f9a2f", "#ec1c24", "#2233dd", "#000000"]},
               "legend": {"title": null, "values": ["Total EGFR Pulse-chase", "p-EGFR Pulse-chase"], "orient": "none", "legendX": 60.5, "legendY": 119, "symbolType": "M-1,-1L1,1M-1,1L1,-1", "symbolSize": 36, "symbolStrokeWidth": 2.5, "symbolOpacity": 1, "rowPadding": -1, "labelOffset": 6}}}},
            {"data": {"name": "bPts"}, "mark": {"type": "point", "opacity": 0},
             "encoding": {
               "shape": {"field": "s", "type": "nominal", "scale": {"domain": ["Total EGFR", "p-EGFR"], "range": ["M-1,0H-0.38M0.38,0H1M-0.38,-0.38H0.38V0.38H-0.38Z", "M-1,0H1M-0.4,0A0.4,0.4 0 1,0 0.4,0A0.4,0.4 0 1,0 -0.4,0Z"]},
                 "legend": {"title": null, "orient": "none", "legendX": 122.5, "legendY": -2, "symbolSize": 256, "symbolStrokeWidth": 1.3, "symbolOpacity": 1, "rowPadding": 2, "labelOffset": 5}},
               "fill": {"field": "s", "type": "nominal", "scale": {"domain": ["Total EGFR", "p-EGFR"], "range": ["transparent", "#ec1c24"]},
                 "legend": {"title": null, "orient": "none", "legendX": 122.5, "legendY": -2, "symbolSize": 256, "symbolStrokeWidth": 1.3, "symbolOpacity": 1, "rowPadding": 2, "labelOffset": 5}},
               "stroke": {"field": "s", "type": "nominal", "scale": {"domain": ["Total EGFR", "p-EGFR"], "range": ["#2f9a2f", "#ec1c24"]},
                 "legend": {"title": null, "orient": "none", "legendX": 122.5, "legendY": -2, "symbolSize": 256, "symbolStrokeWidth": 1.3, "symbolOpacity": 1, "rowPadding": 2, "labelOffset": 5}}
             }}
          ]
        }
      ],
      "spacing": 114, "bounds": "flush",
      "resolve": {"scale": {"color": "independent", "fill": "independent", "stroke": "independent", "strokeDash": "independent", "shape": "independent"}}
    },
    {
      "vconcat": [
        {
          "hconcat": [
            {
              "width": 218, "height": 151,
              "title": {"text": "C", "dx": -60, "dy": 6},
              "encoding": {
                "x": {"field": "x", "type": "quantitative", "scale": {"domain": [0, 9], "nice": false}, "axis": {"values": [0, 1, 2, 3, 4, 5, 6, 7, 8], "labelExpr": "datum.value == 0 ? '0' : format(datum.value, '.1f')", "title": "EGFR integral intensity per endosome", "titleColor": "#2f9a2f", "titlePadding": 2}},
                "y": {"field": "y", "type": "quantitative", "scale": {"domain": [0, 0.1102], "nice": false}, "axis": {"values": [0, 0.02, 0.04, 0.06, 0.08, 0.1], "format": ".2~f", "title": "Normalized frequency", "titlePadding": 12}}
              },
              "layer": [
                {"data": {"name": "cPts"}, "mark": {"type": "point", "shape": "circle", "size": 14, "strokeWidth": 0.5, "opacity": 1},
                 "encoding": {
                   "fill": {"field": "s", "type": "nominal", "scale": {"domain": ["3 min", "10 min", "30 min", "60 min"], "range": ["#ee1c24", "#f7941e", "#3ee83e", "#2020d0"]},
                     "legend": {"title": null, "orient": "none", "legendX": 110, "legendY": 44.3, "symbolSize": 144, "symbolStrokeWidth": 1.3, "symbolOpacity": 1, "rowPadding": 3.3, "labelOffset": 3, "symbolType": "M-1,0H1M-0.5,0A0.5,0.5 0 1,0 0.5,0A0.5,0.5 0 1,0 -0.5,0Z"}},
                   "stroke": {"field": "s", "type": "nominal", "scale": {"domain": ["3 min", "10 min", "30 min", "60 min"], "range": ["#ee1c24", "#f7941e", "#3ee83e", "#2020d0"]},
                     "legend": {"title": null, "orient": "none", "legendX": 110, "legendY": 44.3, "symbolSize": 144, "symbolStrokeWidth": 1.3, "symbolOpacity": 1, "rowPadding": 3.3, "labelOffset": 3, "symbolType": "M-1,0H1M-0.5,0A0.5,0.5 0 1,0 0.5,0A0.5,0.5 0 1,0 -0.5,0Z"}}
                 }},
                {"data": {"name": "cFit"}, "mark": {"type": "line", "strokeWidth": 1.5, "interpolate": "monotone"},
                 "encoding": {"color": {"field": "s", "type": "nominal", "scale": {"domain": ["3 min", "10 min", "30 min", "60 min"], "range": ["#ee1c24", "#f7941e", "#3ee83e", "#2020d0"]}, "legend": null}}}
              ]
            },
            {
              "width": 217, "height": 151,
              "title": {"text": "D", "dx": -71, "dy": 1},
              "encoding": {
                "x": {"field": "x", "type": "quantitative", "scale": {"domain": [0, 9], "nice": false}, "axis": {"values": [0, 1, 2, 3, 4, 5, 6, 7, 8], "labelExpr": "datum.value == 0 ? '0' : format(datum.value, '.1f')", "title": "p-EGFR integral intensity per endosome", "titleColor": "#e8202a", "titlePadding": 2}},
                "y": {"field": "y", "type": "quantitative", "scale": {"domain": [0, 0.1102], "nice": false}, "axis": {"values": [0, 0.02, 0.04, 0.06, 0.08, 0.1], "format": ".2~f", "title": "Normalized frequency", "titlePadding": 13}}
              },
              "layer": [
                {"data": {"name": "dPts"}, "mark": {"type": "point", "shape": "circle", "size": 14, "strokeWidth": 0.5, "opacity": 1},
                 "encoding": {
                   "fill": {"field": "s", "type": "nominal", "scale": {"domain": ["3 min", "10 min", "30 min", "60 min"], "range": ["#ee1c24", "#f7941e", "#3ee83e", "#2020d0"]},
                     "legend": {"title": null, "orient": "none", "legendX": 91.5, "legendY": 44.3, "symbolSize": 144, "symbolStrokeWidth": 1.3, "symbolOpacity": 1, "rowPadding": 3.3, "labelOffset": 5, "symbolType": "M-1,0H1M-0.5,0A0.5,0.5 0 1,0 0.5,0A0.5,0.5 0 1,0 -0.5,0Z"}},
                   "stroke": {"field": "s", "type": "nominal", "scale": {"domain": ["3 min", "10 min", "30 min", "60 min"], "range": ["#ee1c24", "#f7941e", "#3ee83e", "#2020d0"]},
                     "legend": {"title": null, "orient": "none", "legendX": 91.5, "legendY": 44.3, "symbolSize": 144, "symbolStrokeWidth": 1.3, "symbolOpacity": 1, "rowPadding": 3.3, "labelOffset": 5, "symbolType": "M-1,0H1M-0.5,0A0.5,0.5 0 1,0 0.5,0A0.5,0.5 0 1,0 -0.5,0Z"}}
                 }},
                {"data": {"name": "dFit"}, "mark": {"type": "line", "strokeWidth": 1.5, "interpolate": "monotone"},
                 "encoding": {"color": {"field": "s", "type": "nominal", "scale": {"domain": ["3 min", "10 min", "30 min", "60 min"], "range": ["#ee1c24", "#f7941e", "#3ee83e", "#2020d0"]}, "legend": null}}}
              ]
            }
          ],
          "spacing": 111, "bounds": "flush",
          "resolve": {"scale": {"color": "independent", "fill": "independent", "stroke": "independent", "strokeDash": "independent", "shape": "independent"}}
        },
        {
          "hconcat": [
            {
              "width": 202, "height": 202,
              "title": {"text": "E", "dx": -60, "dy": 6.5},
              "layer": [
                {
                  "encoding": {
                    "x": {"field": "x", "type": "quantitative", "scale": {"type": "log", "domain": [0.0435, 13], "nice": false},
                      "axis": {"values": [0.05, 0.06, 0.07, 0.08, 0.09, 0.1, 0.2, 0.3, 0.4, 0.5, 0.6, 0.7, 0.8, 0.9, 1, 2, 3, 4, 5, 6, 7, 8, 9, 10],
                        "labelExpr": "datum.value == 0.1 ? '0.1' : datum.value == 1 ? '1.0' : datum.value == 10 ? '10' : ''",
                        "tickSize": {"condition": {"test": "datum.value == 0.1 || datum.value == 1 || datum.value == 10", "value": 6}, "value": 3.5},
                        "title": "[EGF] ng/ml", "titlePadding": 2}},
                    "y": {"field": "y", "type": "quantitative", "scale": {"domain": [0, 60], "nice": false},
                      "axis": {"values": [0, 10, 20, 30, 40, 50, 60], "title": "Number of endosomes", "offset": 7, "titlePadding": 4}}
                  },
                  "layer": [
                    {"data": {"name": "ePts"}, "mark": {"type": "errorbar", "ticks": true, "size": 5, "thickness": 1.3},
                     "encoding": {"yError": {"field": "e"}, "color": {"field": "s", "type": "nominal", "scale": {"domain": ["p-EGFR", "Total EGFR"], "range": ["#ec1c24", "#2f9a2f"]}, "legend": null}}},
                    {"data": {"name": "eFit"}, "mark": {"type": "line", "strokeWidth": 1.3, "interpolate": "monotone"},
                     "encoding": {"color": {"field": "s", "type": "nominal", "scale": {"domain": ["p-EGFR", "Total EGFR"], "range": ["#ec1c24", "#2f9a2f"]}, "legend": null}}},
                    {"data": {"name": "ePts"}, "transform": [{"filter": "datum.s == 'Total EGFR'"}],
                     "mark": {"type": "point", "shape": "square", "filled": false, "size": 50, "strokeWidth": 1.3, "opacity": 1},
                     "encoding": {"color": {"field": "s", "type": "nominal", "scale": {"domain": ["p-EGFR", "Total EGFR"], "range": ["#ec1c24", "#2f9a2f"]}, "legend": null}}},
                    {"data": {"name": "ePts"}, "transform": [{"filter": "datum.s == 'p-EGFR'"}],
                     "mark": {"type": "point", "shape": "circle", "filled": true, "size": 45, "opacity": 1},
                     "encoding": {"color": {"field": "s", "type": "nominal", "scale": {"domain": ["p-EGFR", "Total EGFR"], "range": ["#ec1c24", "#2f9a2f"]}, "legend": null}}},
                    {"data": {"name": "ePts"}, "mark": {"type": "point", "opacity": 0},
                     "encoding": {
                       "shape": {"field": "s", "type": "nominal", "scale": {"domain": ["Total EGFR", "p-EGFR"], "range": ["M-1,0H-0.38M0.38,0H1M-0.38,-0.38H0.38V0.38H-0.38Z", "M-1,0H1M-0.4,0A0.4,0.4 0 1,0 0.4,0A0.4,0.4 0 1,0 -0.4,0Z"]},
                         "legend": {"title": null, "orient": "none", "legendX": 19.5, "legendY": 130, "symbolSize": 256, "symbolStrokeWidth": 1.3, "symbolOpacity": 1, "rowPadding": 2, "labelOffset": 5}},
                       "fill": {"field": "s", "type": "nominal", "scale": {"domain": ["Total EGFR", "p-EGFR"], "range": ["transparent", "#ec1c24"]},
                         "legend": {"title": null, "orient": "none", "legendX": 19.5, "legendY": 130, "symbolSize": 256, "symbolStrokeWidth": 1.3, "symbolOpacity": 1, "rowPadding": 2, "labelOffset": 5}},
                       "stroke": {"field": "s", "type": "nominal", "scale": {"domain": ["Total EGFR", "p-EGFR"], "range": ["#2f9a2f", "#ec1c24"]},
                         "legend": {"title": null, "orient": "none", "legendX": 19.5, "legendY": 130, "symbolSize": 256, "symbolStrokeWidth": 1.3, "symbolOpacity": 1, "rowPadding": 2, "labelOffset": 5}}
                     }}
                  ]
                },
                {
                  "layer": [
                    {"data": {"values": [{}]}, "mark": {"type": "rect", "fill": "white", "stroke": "#111", "strokeWidth": 1.5},
                     "encoding": {"x": {"datum": -3.13, "type": "quantitative"}, "x2": {"datum": 11.59}, "y": {"datum": -19.1, "type": "quantitative"}, "y2": {"datum": 69.6}}},
                    {"data": {"name": "ePts"}, "mark": {"type": "errorbar", "ticks": true, "size": 3, "thickness": 1},
                     "encoding": {
                       "x": {"field": "x", "type": "quantitative", "scale": {"domain": [0, 11], "range": [202.5, 281.5], "nice": false},
                         "axis": {"orient": "bottom", "offset": -23.3, "zindex": 2, "values": [2, 4, 6, 8, 10], "labelExpr": "datum.value == 2 ? '2.0' : datum.value == 10 ? '10' : ''", "tickSize": 3, "labelPadding": 2, "title": null}},
                       "y": {"field": "y", "type": "quantitative", "scale": {"domain": [0, 60], "range": [178.7, 130.7], "nice": false},
                         "axis": {"orient": "left", "offset": -201.7, "zindex": 2, "values": [0, 6, 12, 18, 24, 30, 36, 42, 48, 54, 60], "labelExpr": "datum.value == 0 || datum.value == 60 ? format(datum.value, 'd') : ''", "tickSize": 3, "labelPadding": 2, "title": null}},
                       "yError": {"field": "e"},
                       "color": {"field": "s", "type": "nominal", "scale": {"domain": ["p-EGFR", "Total EGFR"], "range": ["#ec1c24", "#2f9a2f"]}, "legend": null}}},
                    {"data": {"name": "eFit"}, "mark": {"type": "line", "strokeWidth": 1.2, "interpolate": "monotone"},
                     "encoding": {"x": {"field": "x", "type": "quantitative"}, "y": {"field": "y", "type": "quantitative"},
                       "color": {"field": "s", "type": "nominal", "scale": {"domain": ["p-EGFR", "Total EGFR"], "range": ["#ec1c24", "#2f9a2f"]}, "legend": null}}},
                    {"data": {"name": "ePts"}, "transform": [{"filter": "datum.s == 'Total EGFR'"}], "mark": {"type": "point", "shape": "square", "filled": true, "size": 10, "opacity": 1},
                     "encoding": {"x": {"field": "x", "type": "quantitative"}, "y": {"field": "y", "type": "quantitative"},
                       "color": {"field": "s", "type": "nominal", "scale": {"domain": ["p-EGFR", "Total EGFR"], "range": ["#ec1c24", "#2f9a2f"]}, "legend": null}}},
                    {"data": {"name": "ePts"}, "transform": [{"filter": "datum.s == 'p-EGFR'"}], "mark": {"type": "point", "shape": "circle", "filled": true, "size": 10, "opacity": 1},
                     "encoding": {"x": {"field": "x", "type": "quantitative"}, "y": {"field": "y", "type": "quantitative"},
                       "color": {"field": "s", "type": "nominal", "scale": {"domain": ["p-EGFR", "Total EGFR"], "range": ["#ec1c24", "#2f9a2f"]}, "legend": null}}}
                  ]
                }
              ],
              "resolve": {"scale": {"x": "independent", "y": "independent"}}
            },
            {
              "width": 204, "height": 201,
              "title": {"text": "F", "dx": -93, "dy": 7.5},
              "layer": [
                {
                  "encoding": {
                    "x": {"field": "x", "type": "quantitative", "scale": {"type": "log", "domain": [0.042, 12.5], "nice": false},
                      "axis": {"values": [0.05, 0.06, 0.07, 0.08, 0.09, 0.1, 0.2, 0.3, 0.4, 0.5, 0.6, 0.7, 0.8, 0.9, 1, 2, 3, 4, 5, 6, 7, 8, 9, 10],
                        "labelExpr": "datum.value == 0.1 ? '0.1' : datum.value == 1 ? '1.0' : datum.value == 10 ? '10' : ''",
                        "tickSize": {"condition": {"test": "datum.value == 0.1 || datum.value == 1 || datum.value == 10", "value": 6}, "value": 3.5},
                        "title": "[EGF] ng/ml", "titlePadding": 2}},
                    "y": {"field": "y", "type": "quantitative", "scale": {"domain": [0, 1.2], "nice": false},
                      "axis": {"values": [0, 0.2, 0.4, 0.6, 0.8, 1, 1.2], "labelExpr": "datum.value == 0 ? '0' : format(datum.value, '.1f')", "title": ["Integral intensity", "per endosome"], "offset": 2, "titlePadding": 6}}
                  },
                  "layer": [
                    {"data": {"name": "fPts"}, "mark": {"type": "errorbar", "ticks": true, "size": 5, "thickness": 1.3},
                     "encoding": {"yError": {"field": "e"}, "color": {"field": "s", "type": "nominal", "scale": {"domain": ["p-EGFR", "Total EGFR"], "range": ["#ec1c24", "#2f9a2f"]}, "legend": null}}},
                    {"data": {"name": "fFit"}, "mark": {"type": "line", "strokeWidth": 1.3, "interpolate": "monotone"},
                     "encoding": {"color": {"field": "s", "type": "nominal", "scale": {"domain": ["p-EGFR", "Total EGFR"], "range": ["#ec1c24", "#2f9a2f"]}, "legend": null}}},
                    {"data": {"name": "fPts"}, "transform": [{"filter": "datum.s == 'Total EGFR'"}],
                     "mark": {"type": "point", "shape": "square", "filled": false, "size": 50, "strokeWidth": 1.3, "opacity": 1},
                     "encoding": {"color": {"field": "s", "type": "nominal", "scale": {"domain": ["p-EGFR", "Total EGFR"], "range": ["#ec1c24", "#2f9a2f"]}, "legend": null}}},
                    {"data": {"name": "fPts"}, "transform": [{"filter": "datum.s == 'p-EGFR'"}],
                     "mark": {"type": "point", "shape": "circle", "filled": true, "size": 45, "opacity": 1},
                     "encoding": {"color": {"field": "s", "type": "nominal", "scale": {"domain": ["p-EGFR", "Total EGFR"], "range": ["#ec1c24", "#2f9a2f"]}, "legend": null}}},
                    {"data": {"name": "fPts"}, "mark": {"type": "point", "opacity": 0},
                     "encoding": {
                       "shape": {"field": "s", "type": "nominal", "scale": {"domain": ["Total EGFR", "p-EGFR"], "range": ["M-1,0H-0.38M0.38,0H1M-0.38,-0.38H0.38V0.38H-0.38Z", "M-1,0H1M-0.4,0A0.4,0.4 0 1,0 0.4,0A0.4,0.4 0 1,0 -0.4,0Z"]},
                         "legend": {"title": null, "orient": "none", "legendX": 3.5, "legendY": 129, "symbolSize": 256, "symbolStrokeWidth": 1.3, "symbolOpacity": 1, "rowPadding": 2, "labelOffset": 5}},
                       "fill": {"field": "s", "type": "nominal", "scale": {"domain": ["Total EGFR", "p-EGFR"], "range": ["transparent", "#ec1c24"]},
                         "legend": {"title": null, "orient": "none", "legendX": 3.5, "legendY": 129, "symbolSize": 256, "symbolStrokeWidth": 1.3, "symbolOpacity": 1, "rowPadding": 2, "labelOffset": 5}},
                       "stroke": {"field": "s", "type": "nominal", "scale": {"domain": ["Total EGFR", "p-EGFR"], "range": ["#2f9a2f", "#ec1c24"]},
                         "legend": {"title": null, "orient": "none", "legendX": 3.5, "legendY": 129, "symbolSize": 256, "symbolStrokeWidth": 1.3, "symbolOpacity": 1, "rowPadding": 2, "labelOffset": 5}}
                     }}
                  ]
                },
                {
                  "layer": [
                    {"data": {"values": [{}]}, "mark": {"type": "rect", "fill": "white", "stroke": "#111", "strokeWidth": 1.5},
                     "encoding": {"x": {"datum": -3.71, "type": "quantitative"}, "x2": {"datum": 11.66}, "y": {"datum": -0.373, "type": "quantitative"}, "y2": {"datum": 1.391}}},
                    {"data": {"name": "fPts"}, "mark": {"type": "errorbar", "ticks": true, "size": 3, "thickness": 1},
                     "encoding": {
                       "x": {"field": "x", "type": "quantitative", "scale": {"domain": [0, 11], "range": [116.5, 192.2], "nice": false},
                         "axis": {"orient": "bottom", "offset": -22, "zindex": 2, "values": [2, 4, 6, 8, 10], "labelExpr": "datum.value == 2 ? '2.0' : datum.value == 10 ? '10' : ''", "tickSize": 3, "labelPadding": 2, "title": null}},
                       "y": {"field": "y", "type": "quantitative", "scale": {"domain": [0, 1.2], "range": [179, 130.7], "nice": false},
                         "axis": {"orient": "left", "offset": -116.7, "zindex": 2, "values": [0, 0.12, 0.24, 0.36, 0.48, 0.6, 0.72, 0.84, 0.96, 1.08, 1.2], "labelExpr": "datum.value == 0 ? '0' : datum.value == 1.2 ? '1.2' : ''", "tickSize": 3, "labelPadding": 2, "title": null}},
                       "yError": {"field": "e"},
                       "color": {"field": "s", "type": "nominal", "scale": {"domain": ["p-EGFR", "Total EGFR"], "range": ["#ec1c24", "#2f9a2f"]}, "legend": null}}},
                    {"data": {"name": "fInsetFit"}, "mark": {"type": "line", "strokeWidth": 1.2},
                     "encoding": {"x": {"field": "x", "type": "quantitative"}, "y": {"field": "y", "type": "quantitative"},
                       "color": {"field": "s", "type": "nominal", "scale": {"domain": ["p-EGFR", "Total EGFR"], "range": ["#ec1c24", "#2f9a2f"]}, "legend": null}}},
                    {"data": {"name": "fPts"}, "transform": [{"filter": "datum.s == 'Total EGFR'"}], "mark": {"type": "point", "shape": "square", "filled": true, "size": 10, "opacity": 1},
                     "encoding": {"x": {"field": "x", "type": "quantitative"}, "y": {"field": "y", "type": "quantitative"},
                       "color": {"field": "s", "type": "nominal", "scale": {"domain": ["p-EGFR", "Total EGFR"], "range": ["#ec1c24", "#2f9a2f"]}, "legend": null}}},
                    {"data": {"name": "fPts"}, "transform": [{"filter": "datum.s == 'p-EGFR'"}], "mark": {"type": "point", "shape": "circle", "filled": true, "size": 10, "opacity": 1},
                     "encoding": {"x": {"field": "x", "type": "quantitative"}, "y": {"field": "y", "type": "quantitative"},
                       "color": {"field": "s", "type": "nominal", "scale": {"domain": ["p-EGFR", "Total EGFR"], "range": ["#ec1c24", "#2f9a2f"]}, "legend": null}}}
                  ]
                }
              ],
              "resolve": {"scale": {"x": "independent", "y": "independent"}}
            }
          ],
          "spacing": 149, "bounds": "flush",
          "resolve": {"scale": {"color": "independent", "fill": "independent", "stroke": "independent", "strokeDash": "independent", "shape": "independent"}}
        }
      ],
      "spacing": 13,
      "resolve": {"scale": {"color": "independent", "fill": "independent", "stroke": "independent", "strokeDash": "independent", "shape": "independent"}}
    }
  ],
  "spacing": -15,
  "resolve": {"scale": {"color": "independent", "fill": "independent", "stroke": "independent", "strokeDash": "independent", "shape": "independent"}}
}
